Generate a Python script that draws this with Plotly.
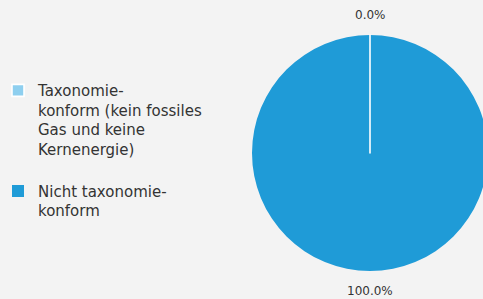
import plotly.graph_objects as go

# legend (reading) order
labels = ["Taxonomie-<br>konform (kein fossiles<br>Gas und keine<br>Kernenergie)<br> ",
          "Nicht taxonomie-<br>konform"]
values = [0.0, 100.0]
colors = ["#8ecfef", "#1f9bd7"]

FONT = "DejaVu Sans"
dom_x = [252 / 488, 1.0]
dom_y = [0.0936, 0.8829]

# slices drawn in reverse so the zero-size slice's white edge lies on top
fig = go.Figure(go.Pie(
    labels=labels[::-1],
    values=values[::-1],
    sort=False,
    direction="clockwise",
    rotation=0,
    marker=dict(colors=colors[::-1], line=dict(color="white", width=[0, 1.6])),
    textinfo="none",
    domain=dict(x=dom_x, y=dom_y),
    hoverinfo="skip",
))

# percentage labels above / below the pie, computed from the data
total = sum(values)
cx = (dom_x[0] + dom_x[1]) / 2
pcts = [f"{v / total:.1%}" for v in values]
fig.add_annotation(text=pcts[0], x=cx, y=0.95, xref="paper", yref="paper",
                   showarrow=False, xanchor="center", yanchor="middle",
                   font=dict(family=FONT, size=12, color="#333333"))
fig.add_annotation(text=pcts[1], x=cx, y=0.027, xref="paper", yref="paper",
                   showarrow=False, xanchor="center", yanchor="middle",
                   font=dict(family=FONT, size=12, color="#333333"))

fig.update_layout(
    width=488, height=299,
    margin=dict(l=0, r=0, t=0, b=0),
    paper_bgcolor="#f3f3f3",
    plot_bgcolor="#f3f3f3",
    showlegend=True,
    legend=dict(
        x=0.0, y=0.752, xanchor="left", yanchor="top",
        valign="top",
        indentation=-2,
        font=dict(family=FONT, size=15, color="#333333"),
        bgcolor="rgba(0,0,0,0)",
        traceorder="reversed",
    ),
)

fig.write_html("out.html",
               config={"displayModeBar": False},
               post_script="document.body.style.margin='0';"
                           "document.body.style.overflow='hidden';"
                           "document.body.style.background='#f3f3f3';")
